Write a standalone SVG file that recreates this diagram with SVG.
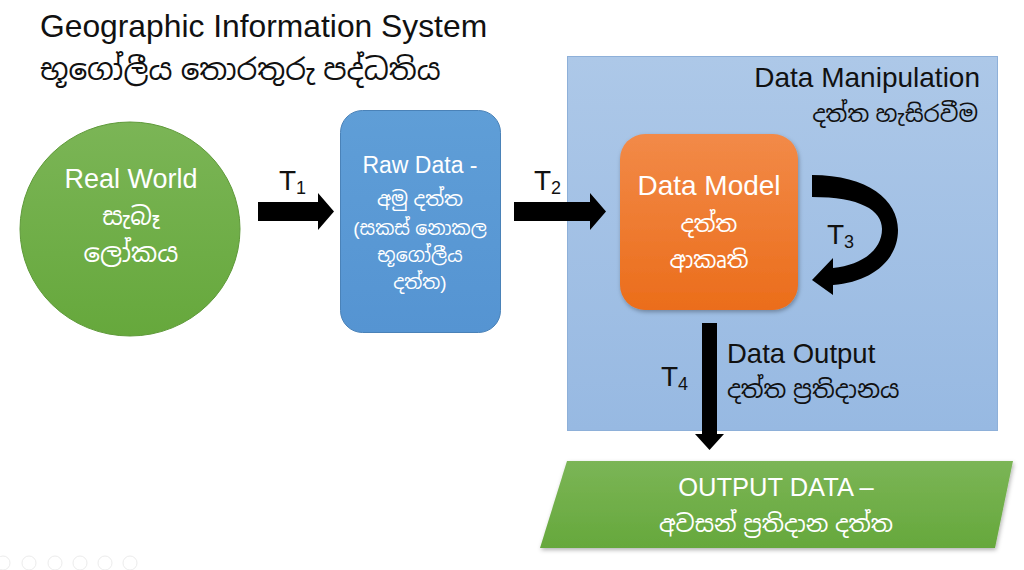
<svg xmlns="http://www.w3.org/2000/svg" width="1024" height="570" viewBox="0 0 1024 570">
<defs>
<linearGradient id="gPanel" x1="0" y1="0" x2="0" y2="1"><stop offset="0" stop-color="#adc8e8"/><stop offset="1" stop-color="#97b9e2"/></linearGradient>
<linearGradient id="gOrange" x1="0" y1="0" x2="0" y2="1"><stop offset="0" stop-color="#f28a48"/><stop offset="1" stop-color="#eb6d1b"/></linearGradient>
<linearGradient id="gGreen" x1="0" y1="0" x2="0" y2="1"><stop offset="0" stop-color="#7bb556"/><stop offset="1" stop-color="#66a83c"/></linearGradient>
<linearGradient id="gBlue" x1="0" y1="0" x2="0" y2="1"><stop offset="0" stop-color="#5f9ed7"/><stop offset="1" stop-color="#5594d2"/></linearGradient>
<filter id="sh" x="-20%" y="-20%" width="140%" height="140%"><feDropShadow dx="1" dy="2" stdDeviation="2" flood-color="#000" flood-opacity="0.3"/></filter>
</defs>
<style>
text{font-family:"Liberation Sans","Noto Sans Sinhala","Noto Sans",sans-serif}
.w{fill:#ffffff;font-size:23px;text-anchor:middle}
.k{fill:#111111;font-size:23px}
.t{fill:#111111;font-size:28px}
.sub{font-size:18px}
.arr{fill:#000000}
</style>
<rect width="1024" height="570" fill="#ffffff"/>
<g id="title">
<text x="40" y="37" class="k" style="font-size:31.8px">Geographic Information System</text>
<text x="40" y="80" class="k" style="font-size:29.5px">භූගෝලීය තොරතුරු පද්ධතිය</text>
</g>
<g id="manipulation">
<rect x="567.5" y="56.5" width="430" height="374" fill="url(#gPanel)" stroke="#8eb0d9" stroke-width="1"/>
<text x="980" y="87" class="k" text-anchor="end" style="font-size:28px">Data Manipulation</text>
<text x="978" y="122" class="k" text-anchor="end">දත්ත හැසිරවීම</text>
</g>
<g id="real-world">
<ellipse cx="130" cy="229" rx="110" ry="107" fill="url(#gGreen)" stroke="#5f9a3a" stroke-width="1"/>
<text x="131" y="188" class="w" style="font-size:27px">Real World</text>
<text x="131" y="225" class="w" style="font-size:25px">සැබෑ</text>
<text x="131" y="262" class="w" style="font-size:26px">ලෝකය</text>
</g>
<g id="raw-data">
<rect x="340.5" y="110.5" width="160" height="222" rx="22" fill="url(#gBlue)" stroke="#4a82b8" stroke-width="1"/>
<text x="420" y="173" class="w" style="font-size:23px">Raw Data -</text>
<text x="420" y="206" class="w" style="font-size:20px">අමු දත්ත</text>
<text x="420" y="235" class="w" style="font-size:19px">(සකස් නොකල</text>
<text x="420" y="262" class="w" style="font-size:19px">භූගෝලීය</text>
<text x="420" y="289" class="w" style="font-size:19px">දත්ත)</text>
</g>
<g id="data-model">
<rect x="620" y="134" width="178" height="176" rx="25" fill="url(#gOrange)" filter="url(#sh)"/>
<text x="709" y="195" class="w" style="font-size:28px">Data Model</text>
<text x="709" y="232" class="w">දත්ත</text>
<text x="709" y="268" class="w">ආකෘති</text>
</g>
<g id="output-data">
<polygon points="567,461 1013,461 995,548 540,548" fill="url(#gGreen)" filter="url(#sh)"/>
<text x="776" y="496" class="w" style="font-size:25.5px">OUTPUT DATA –</text>
<text x="776" y="532" class="w" style="font-size:23.5px">අවසන් ප්‍රතිදාන දත්ත</text>
</g>
<g id="connectors">
<polygon class="arr" points="258,202 318,202 318,193 334,211.5 318,230 318,221 258,221"/>
<polygon class="arr" points="514,202 590,202 590,193 606,211.5 590,230 590,221 514,221"/>
<path class="arr" d="M812,175 C868,175 898,200 898,230 C898,260 872,282 833,285 L833,295 L812,280 L833,258 L833,268 C862,265 882,250 882,229 C882,210 860,197 812,197 Z"/>
<polygon class="arr" points="702,323 717,323 717,434 724,434 709.5,450 695,434 702,434"/>
<text x="279" y="190" class="t">T<tspan class="sub" dy="4">1</tspan></text>
<text x="534" y="190" class="t">T<tspan class="sub" dy="4">2</tspan></text>
<text x="827" y="244" class="t">T<tspan class="sub" dy="4">3</tspan></text>
<text x="661" y="386" class="t">T<tspan class="sub" dy="4">4</tspan></text>
<text x="727" y="363" class="k" style="font-size:27.5px">Data Output</text>
<text x="727" y="398" class="k" style="font-size:24px">දත්ත ප්‍රතිදානය</text>
</g>
<g id="controls" fill="none" stroke="#ececec" stroke-width="1">
<circle cx="3" cy="563" r="7"/>
<circle cx="29" cy="563" r="7"/>
<circle cx="55" cy="563" r="7"/>
<circle cx="80" cy="563" r="7"/>
<circle cx="105" cy="563" r="7"/>
<circle cx="130" cy="563" r="7"/>
</g>
</svg>
